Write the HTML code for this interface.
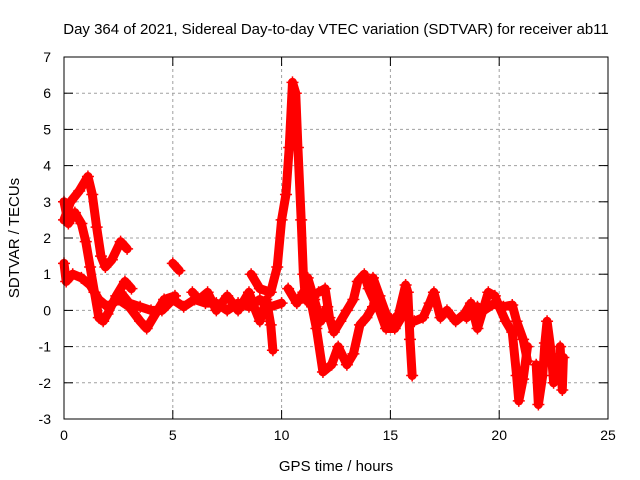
<!DOCTYPE html>
<html><head><meta charset="utf-8"><style>
body{margin:0;background:#fff;}
svg{display:block;font-family:"Liberation Sans",sans-serif;}
</style></head><body>
<svg id="chart" width="640" height="480" xmlns="http://www.w3.org/2000/svg">
<text x="336" y="34" font-size="15" text-anchor="middle">Day 364 of 2021, Sidereal Day-to-day VTEC variation (SDTVAR) for receiver ab11</text>
<text x="336" y="471" font-size="15" text-anchor="middle">GPS time / hours</text>
<text x="19" y="238" font-size="15" text-anchor="middle" transform="rotate(-90 19 238)">SDTVAR / TECUs</text>
<g id="grid"></g><g id="ticks"></g><g id="marks"></g>
<rect x="64" y="57" width="544" height="362" fill="none" stroke="#000" stroke-width="1"/>
</svg>
<script>
const xTicks=[0,5,10,15,20,25];
const yTicks=[-3,-2,-1,0,1,2,3,4,5,6,7];
const track1=[[0,2.5],[0.3,3.0],[0.7,3.3],[1.1,3.7],[1.3,3.2],[1.5,2.3],[1.7,1.5],[1.9,1.2],[2.2,1.4],[2.6,1.9],[2.9,1.7]];
const track2=[[0,3.0],[0.2,2.4],[0.5,2.7],[0.8,2.4],[1.0,1.9],[1.2,1.2],[1.4,0.5],[1.6,-0.2],[1.8,-0.3],[2.0,-0.1],[2.4,0.4],[2.8,0.8],[3.1,0.6]];
const track3=[[0,1.3],[0.1,0.8],[0.4,1.0],[0.8,0.9],[1.2,0.7],[1.6,0.3],[2.0,0.1],[2.5,0.3],[3.0,0.1],[3.5,-0.3],[3.8,-0.5],[4.2,-0.1],[4.6,0.3],[5.1,0.4]];
const track4=[[2.6,0.5],[3.0,0.2],[3.5,0.1],[4.0,0.0],[4.5,0.0],[5.0,0.3],[5.5,0.1],[6.0,0.3],[6.5,0.2],[7.0,0.2],[7.5,0.0],[8.0,0.2],[8.5,0.1],[9.0,0.3],[9.5,0.1],[10.0,0.2]];
const track5=[[5.9,0.5],[6.2,0.3],[6.6,0.5],[7.0,0.0],[7.5,0.4],[8.0,0.0],[8.5,0.5],[8.8,0.0],[9.0,-0.3],[9.3,0.3],[9.5,-0.4],[9.6,-1.1]];
const track6=[[8.6,1.0],[9.0,0.6],[9.5,0.5],[9.8,1.2],[10.0,2.5],[10.2,3.2],[10.35,4.5],[10.5,6.3],[10.65,6.0],[10.75,4.5],[10.9,2.5],[11.0,1.0],[11.1,0.3],[11.3,0.2]];
const track7=[[10.3,0.6],[10.7,0.2],[11.0,0.5],[11.4,0.1],[11.6,-0.5],[11.9,-1.7],[12.3,-1.5],[12.6,-1.0],[13.0,-1.5],[13.3,-1.2],[13.6,-0.4],[13.9,-0.2],[14.2,0.1]];
const track8=[[11.7,0.5],[12.0,0.6],[12.2,-0.2],[12.4,-0.6],[12.7,-0.3],[13.0,0.0],[13.3,0.3],[13.5,0.8],[13.8,1.0],[14.0,0.6],[14.3,0.2],[14.5,0.0],[14.8,-0.5],[15.2,-0.5],[15.5,-0.2],[15.7,0.0]];
const track9=[[15.3,-0.3],[15.7,0.7],[15.8,0.5],[15.9,-0.8],[16.0,-1.8]];
const track10=[[16.1,-0.3],[16.5,-0.2],[16.8,0.2],[17.0,0.5],[17.3,-0.2],[17.6,0.0],[18.0,-0.3],[18.4,-0.1],[18.7,0.2],[19.0,-0.5],[19.3,0.1],[19.5,0.5],[19.8,0.4],[20.0,0.1],[20.3,-0.3],[20.6,-0.6],[20.8,-1.8],[20.9,-2.5],[21.1,-1.9],[21.3,-1.0]];
const track11=[[18.5,-0.2],[19.0,0.1],[19.3,0.0],[19.8,0.2],[20.2,0.1],[20.6,0.15],[20.8,-0.3],[21.1,-0.8],[21.3,-1.4]];
const track12=[[21.7,-1.5],[21.8,-2.6],[22.0,-1.8],[22.1,-0.9],[22.2,-0.3],[22.4,-1.2],[22.5,-2.0],[22.6,-1.4]];
const track13=[[22.8,-1.0],[22.85,-1.6],[22.9,-2.2],[22.95,-1.3]];
const track14=[[5.0,1.3],[5.3,1.1]];
const track15=[[14.2,0.9],[14.5,0.4],[14.8,-0.1],[15.1,-0.3],[15.4,-0.1]];
const track16=[[11.2,0.9],[11.5,0.3],[11.8,-0.3],[12.1,0.1]];
const tracks=[track1,track2,track3,track4,track5,track6,track7,track8,track9,track10,track11,track12,track13,track14,track15,track16];
const X=t=>64+t*544/25, Y=v=>57+(7-v)*362/10;
const NS="http://www.w3.org/2000/svg";
function mk(tag,at,parent){const e=document.createElementNS(NS,tag);for(const k in at)e.setAttribute(k,at[k]);parent.appendChild(e);return e;}
const grid=document.getElementById('grid'),ticks=document.getElementById('ticks'),marks=document.getElementById('marks');
xTicks.forEach(t=>{
 if(t>0&&t<25){const g=mk('line',{x1:X(t),x2:X(t),y1:57,y2:419,stroke:'#a0a0a0','stroke-dasharray':'3,3'},grid);
 
 }
 mk('line',{x1:X(t),x2:X(t),y1:419,y2:410,stroke:'#000'},ticks);
 mk('line',{x1:X(t),x2:X(t),y1:57,y2:66,stroke:'#000'},ticks);
 const l=mk('text',{x:X(t),y:440,'font-size':14,'text-anchor':'middle'},ticks);l.textContent=t;
 
 
});
yTicks.forEach(v=>{
 if(v>-3&&v<7){const g=mk('line',{x1:64,x2:608,y1:Y(v),y2:Y(v),stroke:'#a0a0a0','stroke-dasharray':'3,3'},grid);
 
 }
 mk('line',{x1:64,x2:73,y1:Y(v),y2:Y(v),stroke:'#000'},ticks);
 mk('line',{x1:599,x2:608,y1:Y(v),y2:Y(v),stroke:'#000'},ticks);
 const l=mk('text',{x:51,y:Y(v)+5,'font-size':14,'text-anchor':'end'},ticks);l.textContent=v;
 
 
});
tracks.forEach((tr,i)=>{
 const p=mk('polyline',{points:tr.map(d=>X(d[0])+','+Y(d[1])).join(' '),fill:'none',stroke:'#f00','stroke-width':9,'stroke-linejoin':'round','stroke-linecap':'round'},marks);
 
 
 tr.forEach(d=>{
  const x=X(d[0]),y=Y(d[1]);
  const m=mk('path',{d:`M${x-6},${y}H${x+6}M${x},${y-6}V${y+6}`,stroke:'#f00','stroke-width':1.5},marks);
  
  
 });
});
</script>
</body></html>
